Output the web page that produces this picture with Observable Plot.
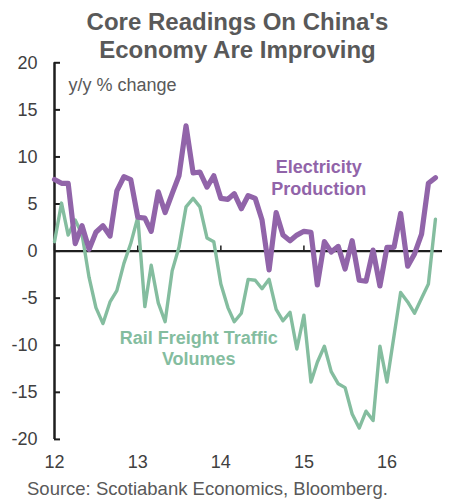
<!DOCTYPE html>
<html><head><meta charset="utf-8">
<script src="https://cdn.jsdelivr.net/npm/d3@7"></script>
<script src="https://cdn.jsdelivr.net/npm/@observablehq/plot@0.6"></script>
<style>
body{margin:0;background:#fff;font-family:"Liberation Sans",Arial,sans-serif;}
#wrap{position:relative;width:455px;height:500px;overflow:hidden;}
#title{position:absolute;top:8px;left:20px;width:435px;text-align:center;font-weight:bold;font-size:24px;line-height:28px;color:#595959;z-index:2;}
#chart{position:absolute;top:55px;left:0;}
#source{position:absolute;left:27px;top:479px;font-size:18.5px;line-height:20px;color:#595959;white-space:nowrap;}
</style></head>
<body>
<div id="wrap">
  <div id="title">Core Readings On China's<br>Economy Are Improving</div>
  <div id="chart"></div>
  <div id="source">Source: Scotiabank Economics, Bloomberg.</div>
</div>
<script>
// Monthly, Jan 2012 – Aug 2016
const startMonth = "2012-01-01";
const endMonth = "2016-09-01";
const electricity = [7.6, 7.2, 7.2, 0.8, 2.7, 0.2, 2.0, 2.7, 1.6, 6.4, 7.9, 7.6,
  3.6, 3.5, 2.1, 6.3, 4.1, 6.1, 8.0, 13.3, 8.3, 8.4, 6.8, 8.0,
  5.6, 5.5, 6.1, 4.5, 5.9, 5.6, 3.3, -2.0, 4.1, 1.7, 1.1, 1.7,
  2.1, 2.0, -3.6, 1.0, -0.1, 0.5, -1.9, 1.1, -3.1, -3.2, 0.1, -3.7,
  0.4, 0.4, 4.0, -1.6, -0.3, 1.8, 7.2, 7.8];
const railFreight = [1.0, 5.1, 1.7, 3.3, 1.8, -2.8, -6.0, -7.7, -5.4, -4.2, -1.3, 0.8,
  3.6, -5.9, -1.5, -5.5, -7.5, -2.1, 0.4, 4.7, 5.6, 4.7, 1.4, 1.0,
  -3.5, -6.0, -7.5, -6.6, -3.0, -3.1, -4.0, -3.0, -6.2, -7.4, -6.5, -10.4,
  -6.8, -13.9, -11.8, -10.1, -12.8, -14.1, -14.5, -17.3, -18.8, -17.0, -18.0, -10.1,
  -13.9, -9.0, -4.4, -5.4, -6.6, -5.0, -3.5, 3.4];
const yTicks = [-20, -15, -10, -5, 0, 5, 10, 15, 20];
const xTickDates = ["2012-01-01", "2013-01-01", "2014-01-01", "2015-01-01", "2016-01-01"];
const xTickLabels = ["12", "13", "14", "15", "16"];
const seriesNames = ["Electricity\nProduction", "Rail Freight Traffic\nVolumes"];
const labelDates = ["2015-03-07", "2013-09-26"];
const labelValues = [7.87, -10.25];

const purple = "#9164a9";
const green = "#84bd9f";
const axisColor = "#1e1e1e";

const months = d3.utcMonth.range(new Date(startMonth), new Date(endMonth));
const elec = months.map((d, i) => ({date: d, value: electricity[i]}));
const rail = months.map((d, i) => ({date: d, value: railFreight[i]}));
const xTicks = xTickDates.map(s => new Date(s));
const labelFor = new Map(xTicks.map((d, i) => [+d, xTickLabels[i]]));
const annotations = seriesNames.map((t, i) => ({text: t, date: new Date(labelDates[i]), value: labelValues[i], color: [purple, green][i]}));

const W = 455, H = 420, mL = 54, mR = 13, mT = 7.3, mB = 36.1;

const chart = Plot.plot({
  width: W, height: H,
  marginLeft: mL, marginRight: mR, marginTop: mT, marginBottom: mB,
  style: {fontFamily: "'Liberation Sans', Arial, sans-serif", fontSize: "18px", color: "#404040", background: "transparent", overflow: "visible"},
  x: {type: "utc", domain: [new Date(startMonth), new Date(endMonth)]},
  y: {domain: [-20, 20]},
  marks: [
    Plot.axisY({ticks: yTicks, tickSize: 0, tickPadding: 17, tickFormat: d => String(d), label: null}),
    Plot.axisX({ticks: xTicks, tickSize: 0, tickPadding: 16, tickFormat: d => labelFor.get(+d), label: null}),
    Plot.ruleY(yTicks, {stroke: axisColor, strokeWidth: 2, insetRight: (W - mR) - (mL + 6)}),
    Plot.ruleY([0], {stroke: axisColor, strokeWidth: 2.4}),
    Plot.ruleX(xTicks, {y1: 0, y2: 0.55, stroke: axisColor, strokeWidth: 1.5}),
    Plot.ruleX([months[0]], {y1: -20, y2: 20, stroke: axisColor, strokeWidth: 2.5}),
    Plot.lineY(rail, {x: "date", y: "value", stroke: green, strokeWidth: 3.4}),
    Plot.lineY(elec, {x: "date", y: "value", stroke: purple, strokeWidth: 5.2}),
    Plot.text(["y/y % change"], {frameAnchor: "top-left", dx: 14, dy: 15, lineAnchor: "top", textAnchor: "start", fill: "#595959", fontSize: 18}),
    Plot.text(annotations, {x: "date", y: "value", text: "text", fill: "color", fontWeight: "bold", fontSize: 18, lineHeight: 1.2, textAnchor: "middle", lineAnchor: "middle"})
  ]
});
document.getElementById("chart").appendChild(chart);
</script>
</body></html>
